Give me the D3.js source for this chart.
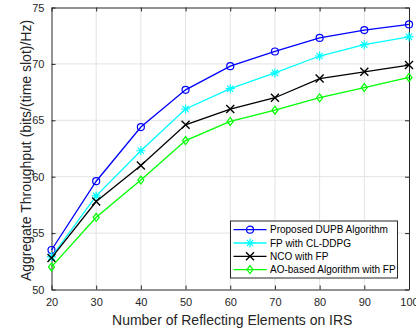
<!DOCTYPE html>
<html>
<head>
<meta charset="utf-8">
<script src="https://cdn.jsdelivr.net/npm/d3@7"></script>
<style>
    body { margin: 0; background: #fff; }
    svg { display: block; font-family: Arial, "Liberation Sans", Helvetica, sans-serif; }
    .grid line { stroke: #e3e3e3; stroke-width: 1; }
    .axis text { fill: #262626; font-size: 11px; }
    .axis path, .axis line { stroke: #262626; }
</style>
</head>
<body>
<div id="chart"></div>
<script>
const xTicks = [20, 30, 40, 50, 60, 70, 80, 90, 100];
const yTicks = [50, 55, 60, 65, 70, 75];
const elements = [20, 30, 40, 50, 60, 70, 80, 90, 100];

const dupb = [53.5, 59.6, 64.4, 67.7, 69.8, 71.1, 72.3, 73.0, 73.5];
const clddpg = [52.9, 58.3, 62.3, 66.0, 67.8, 69.2, 70.7, 71.7, 72.4];
const nco = [52.8, 57.8, 61.0, 64.6, 66.0, 67.0, 68.7, 69.3, 69.9];
const ao = [52.0, 56.4, 59.7, 63.2, 64.9, 65.9, 67.0, 67.9, 68.8];

const seriesNames = [
    'Proposed DUPB Algorithm',
    'FP with CL-DDPG',
    'NCO with FP',
    'AO-based Algorithm with FP'
];
const seriesColours = ['#0000ff', '#00ffff', '#000000', '#00ff00'];
const seriesMarkers = ['circle', 'star', 'cross', 'diamond'];
const seriesValues = [dupb, clddpg, nco, ao];

const W = 416, H = 331;
let margin = { top: 7.5, right: 7, bottom: 41.5, left: 51.5 },
    width = W - margin.left - margin.right,
    height = H - margin.top - margin.bottom;

let xScale = d3.scaleLinear().domain([20, 100]).range([0, width]);
let yScale = d3.scaleLinear().domain([50, 75]).range([height, 0]);

let svg = d3.select('#chart')
    .append('svg')
    .attr('width', W)
    .attr('height', H)
    .append('g')
    .attr('transform', `translate(${margin.left},${margin.top})`);

// grid
svg.append('g')
    .attr('class', 'grid')
    .selectAll('line.v')
    .data(xTicks.slice(1, -1))
    .enter()
    .append('line')
    .attr('x1', d => xScale(d)).attr('x2', d => xScale(d))
    .attr('y1', 0).attr('y2', height);

svg.select('.grid')
    .selectAll('line.h')
    .data(yTicks.slice(1, -1))
    .enter()
    .append('line')
    .attr('x1', 0).attr('x2', width)
    .attr('y1', d => yScale(d)).attr('y2', d => yScale(d));

// axes, ticks pointing inward
svg.append('g')
    .attr('class', 'axis')
    .attr('transform', `translate(0,${height})`)
    .call(d3.axisBottom(xScale).tickValues(xTicks).tickSizeInner(-4).tickSizeOuter(0).tickPadding(9));

svg.append('g')
    .attr('class', 'axis')
    .call(d3.axisTop(xScale).tickValues(xTicks).tickSizeInner(-4).tickSizeOuter(0).tickFormat(''));

svg.append('g')
    .attr('class', 'axis')
    .call(d3.axisLeft(yScale).tickValues(yTicks).tickSizeInner(-4).tickSizeOuter(0).tickPadding(7));

svg.append('g')
    .attr('class', 'axis')
    .attr('transform', `translate(${width},0)`)
    .call(d3.axisRight(yScale).tickValues(yTicks).tickSizeInner(-4).tickSizeOuter(0).tickFormat(''));

// axis labels
svg.append('text')
    .attr('x', width / 2 + 2)
    .attr('y', height + 35)
    .attr('text-anchor', 'middle')
    .attr('fill', '#262626')
    .style('font-size', '14px')
    .text('Number of Reflecting Elements on IRS');

svg.append('text')
    .attr('transform', `translate(${26 - margin.left},${height / 2 + 2}) rotate(-90)`)
    .attr('text-anchor', 'middle')
    .attr('dy', '0.35em')
    .attr('fill', '#262626')
    .style('font-size', '14px')
    .text('Aggregate Throughput (bits/(time slot)/Hz)');

function drawMarker(g, type, colour, cx, cy) {
    if (type === 'circle') {
        g.append('circle').attr('cx', cx).attr('cy', cy).attr('r', 3.5)
            .attr('fill', 'none').attr('stroke', colour).attr('stroke-width', 1.2);
    } else if (type === 'star') {
        let s = 4.5;
        let p = `M${cx - s},${cy}L${cx + s},${cy}M${cx},${cy - s}L${cx},${cy + s}` +
            `M${cx - s * 0.7},${cy - s * 0.7}L${cx + s * 0.7},${cy + s * 0.7}` +
            `M${cx - s * 0.7},${cy + s * 0.7}L${cx + s * 0.7},${cy - s * 0.7}`;
        g.append('path').attr('d', p).attr('stroke', colour).attr('stroke-width', 1.2).attr('fill', 'none');
    } else if (type === 'cross') {
        let s = 4;
        let p = `M${cx - s},${cy - s}L${cx + s},${cy + s}M${cx - s},${cy + s}L${cx + s},${cy - s}`;
        g.append('path').attr('d', p).attr('stroke', colour).attr('stroke-width', 1.4).attr('fill', 'none');
    } else if (type === 'diamond') {
        let s = 4;
        let p = `M${cx},${cy - s}L${cx + s * 0.75},${cy}L${cx},${cy + s}L${cx - s * 0.75},${cy}Z`;
        g.append('path').attr('d', p).attr('stroke', colour).attr('stroke-width', 1.2).attr('fill', 'none');
    }
}

let line = d3.line()
    .x((d, i) => xScale(elements[i]))
    .y(d => yScale(d));

for (let k = 0; k < seriesValues.length; k++) {
    let g = svg.append('g');
    g.append('path')
        .datum(seriesValues[k])
        .attr('fill', 'none')
        .attr('stroke', seriesColours[k])
        .attr('stroke-width', 1.3)
        .attr('d', line);
    seriesValues[k].forEach((v, i) => {
        drawMarker(g, seriesMarkers[k], seriesColours[k], xScale(elements[i]), yScale(v));
    });
}

// legend
let legend = svg.append('g')
    .attr('transform', `translate(${230.5 - margin.left},${221 - margin.top})`);

legend.append('rect')
    .attr('width', 167)
    .attr('height', 57)
    .attr('fill', '#fff')
    .attr('stroke', '#262626')
    .attr('stroke-width', 1);

seriesNames.forEach((name, k) => {
    let y = 8.7 + k * 13.3;
    legend.append('line')
        .attr('x1', 3).attr('x2', 36)
        .attr('y1', y).attr('y2', y)
        .attr('stroke', seriesColours[k])
        .attr('stroke-width', 1.3);
    drawMarker(legend, seriesMarkers[k], seriesColours[k], 19.5, y);
    legend.append('text')
        .attr('x', 39.5)
        .attr('y', y)
        .attr('dy', '0.35em')
        .attr('fill', '#000')
        .style('font-size', '10px')
        .text(name);
});
</script>
</body>
</html>
